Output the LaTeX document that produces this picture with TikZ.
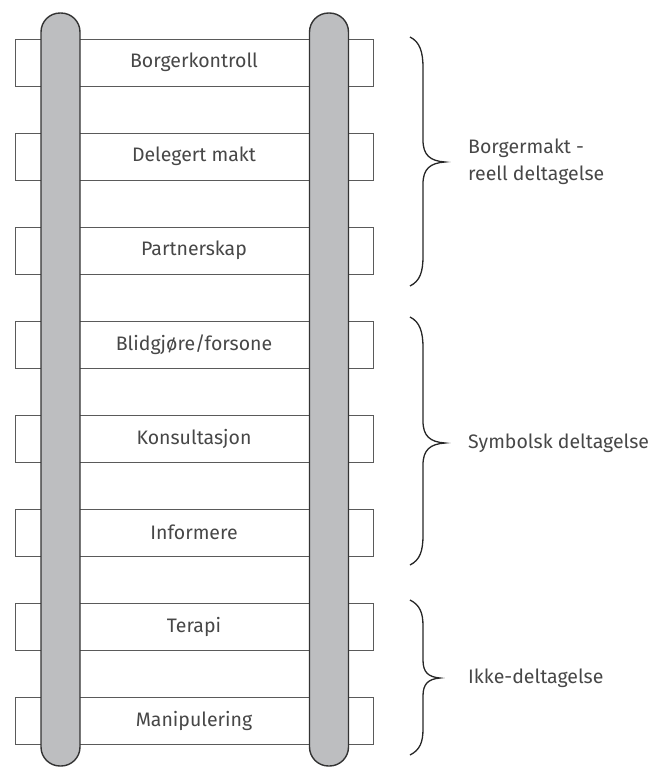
\documentclass[tikz,border=0pt]{standalone}
\usepackage{fontspec}
\setmainfont{Fira Sans}
\definecolor{railgray}{HTML}{BDBEC0}
\definecolor{linegray}{HTML}{5A5A5A}
\definecolor{txtgray}{HTML}{474747}
\begin{document}
\begin{tikzpicture}[x=1pt,y=-1pt,
  rung/.style={draw=linegray, line width=1pt, fill=white, minimum width=358pt, minimum height=47pt, inner sep=0pt, text=txtgray, font=\fontsize{19.5}{23}\selectfont},
  rail/.style={draw=black!80, line width=1.4pt, fill=railgray, minimum width=39pt, minimum height=753pt, rounded corners=19pt, inner sep=0pt},
  bracestyle/.style={draw=black!85, line width=1.3pt},
  grouplabel/.style={anchor=west, align=left, text=txtgray, font=\fontsize{19.5}{27}\selectfont, inner sep=0pt}]
\useasboundingbox (0,0) rectangle (661,769);
\node[rung] (r1) at (194,62.5) {Borgerkontroll};
\node[rung] (r2) at (194,156.5) {Delegert makt};
\node[rung] (r3) at (194,250.5) {Partnerskap};
\node[rung] (r4) at (194,344.5) {Blidgjøre/forsone};
\node[rung] (r5) at (194,438.5) {Konsultasjon};
\node[rung] (r6) at (194,532.5) {Informere};
\node[rung] (r7) at (194,626.5) {Terapi};
\node[rung] (r8) at (194,720.5) {Manipulering};
\node[rail] (lr) at (60.5,389.5) {};
\node[rail] (rr) at (329,389.5) {};
% braces
\coordinate (b1t) at (410,37);
\coordinate (b1m) at (445,162);
\coordinate (b1b) at (410,286);
\draw[bracestyle] (b1t) .. controls (420,42) and (423,52) .. (423,68) -- (423,140)
  .. controls (423,155) and (430,161) .. (b1m)
  .. controls (430,163) and (423,169) .. (423,184) -- (423,256)
  .. controls (423,272) and (420,281) .. (b1b);
\coordinate (b2t) at (410,317);
\coordinate (b2m) at (445,443);
\coordinate (b2b) at (410,565);
\draw[bracestyle] (b2t) .. controls (420,322) and (423,332) .. (423,348) -- (423,421)
  .. controls (423,436) and (430,442) .. (b2m)
  .. controls (430,444) and (423,450) .. (423,465) -- (423,535)
  .. controls (423,551) and (420,560) .. (b2b);
\coordinate (b3t) at (410,600);
\coordinate (b3m) at (440,678);
\coordinate (b3b) at (410,755);
\draw[bracestyle] (b3t) .. controls (420,605) and (423,613) .. (423,626) -- (423,660)
  .. controls (423,672) and (428,677) .. (b3m)
  .. controls (428,679) and (423,684) .. (423,696) -- (423,729)
  .. controls (423,742) and (420,750) .. (b3b);
\node[grouplabel] (g1) at (468,162) {Borgermakt -\\reell deltagelse};
\node[grouplabel] (g2) at (468,443) {Symbolsk deltagelse};
\node[grouplabel] (g3) at (468,678) {Ikke-deltagelse};
\end{tikzpicture}
\end{document}
